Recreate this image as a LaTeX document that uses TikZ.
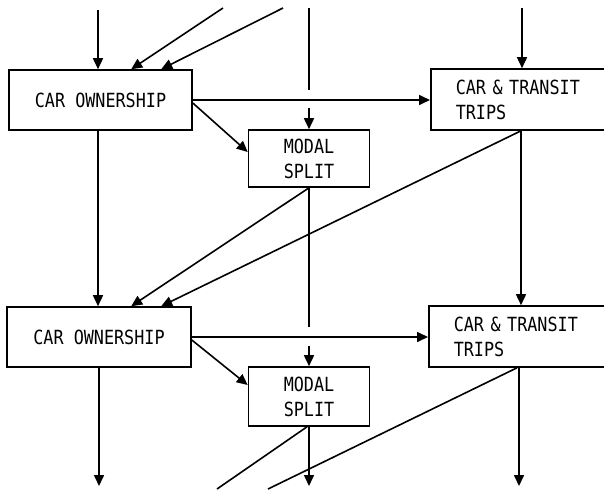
\documentclass[tikz,border=0pt]{standalone}
\usepackage{fontspec}
\newfontfamily\boxfont{DejaVu Sans Mono}[FakeStretch=0.86]
\usetikzlibrary{arrows.meta}

\tikzset{box/.style={rectangle,
                     draw,
                     inner sep=0pt,
                     font=\boxfont\fontsize{19.5}{25}\selectfont}}

\begin{document}
\begin{tikzpicture}[->,>={Triangle[length=11pt,width=10pt]},x=1pt,y=-1pt,line width=1.6pt]

    \clip (0,0) rectangle (604,490);

    % first stage
    \node[box,
          minimum width = 183,
          minimum height = 60
          ] (own1) at (100.5,100) {CAR OWNERSHIP};

    \node[box,
          align = center,
          minimum width = 121,
          minimum height = 57
          ] (split1) at (309,158.5) {MODAL\\SPLIT};

    \node[box,
          anchor = west,
          align = left,
          text width = 160,
          inner xsep = 25,
          minimum height = 61
          ] (trips1) at (430,99.5) {CAR \& TRANSIT\\TRIPS};

    % second stage
    \node[box,
          minimum width = 184,
          minimum height = 60
          ] (own2) at (99,337) {CAR OWNERSHIP};

    \node[box,
          align = center,
          minimum width = 121,
          minimum height = 59
          ] (split2) at (309,396.5) {MODAL\\SPLIT};

    \node[box,
          anchor = west,
          align = left,
          text width = 160,
          inner xsep = 25,
          minimum height = 61
          ] (trips2) at (428,336.5) {CAR \& TRANSIT\\TRIPS};

    % free ends
    \coordinate (in1) at (98,10);
    \coordinate (in2) at (223,8);
    \coordinate (in3) at (283,8);
    \coordinate (in4) at (309,8);
    \coordinate (in5) at (522,8);
    \coordinate (jump1a) at (309,90);
    \coordinate (jump1b) at (309,108);
    \coordinate (jump2a) at (309,327);
    \coordinate (jump2b) at (309,346);
    \coordinate (out1) at (99,486);
    \coordinate (out2) at (309,486);
    \coordinate (out3) at (519,486);
    \coordinate (out4) at (217,489);
    \coordinate (out5) at (268,489);

    \path
    % into first stage
    (in1) edge [] (in1 |- own1.north)
    (in2) edge [] ([xshift=123]own1.north west)
    (in3) edge [] ([xshift=153]own1.north west)
    (in4) edge [-] (jump1a)
    (jump1b) edge [] (split1.north)
    (in5) edge [] ([xshift=92]trips1.north west)
    % within first stage
    (own1.east) edge [] (own1.east -| trips1.west)
    ([yshift=-3]own1.east) edge [] ([yshift=6.5]split1.west)
    % first to second stage
    (own1.south -| in1) edge [] (in1 |- own2.north)
    (split1.south) edge [] ([xshift=125]own2.north west)
    ([xshift=91]trips1.south west) edge [] ([xshift=155]own2.north west)
    ([xshift=91]trips1.south west) edge [] ([xshift=93]trips2.north west)
    (split1.south) edge [-] (jump2a)
    (jump2b) edge [] (split2.north)
    % within second stage
    (own2.east) edge [] (own2.east -| trips2.west)
    ([yshift=-3]own2.east) edge [] ([yshift=11.5]split2.west)
    % out of second stage
    (own2.south -| out1) edge [] (out1)
    (split2.south) edge [] (out2)
    ([xshift=91]trips2.south west) edge [] (out3)
    ([xshift=-2]split2.south) edge [-] (out4)
    ([xshift=89]trips2.south west) edge [-] (out5);

\end{tikzpicture}
\end{document}
